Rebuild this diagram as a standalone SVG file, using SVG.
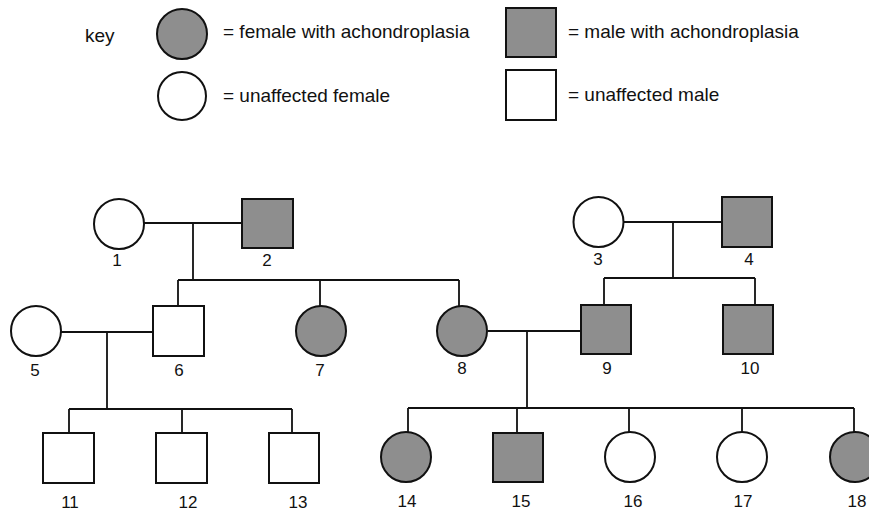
<svg xmlns="http://www.w3.org/2000/svg" width="869" height="512" viewBox="0 0 869 512">
<style>
.aff{fill:#8e8e8e;stroke:#111;stroke-width:2}
.un{fill:#fff;stroke:#111;stroke-width:2}
.ln{fill:none;stroke:#111;stroke-width:1.8}
.kt{font-family:"Liberation Sans",Arial,sans-serif;font-size:19px;fill:#111}
.lb{font-family:"Liberation Sans",Arial,sans-serif;font-size:17px;fill:#111;text-anchor:middle}
</style>
<rect width="869" height="512" fill="#fff"/>
<g id="key">
<text class="kt" x="85" y="42">key</text>
<circle class="aff" cx="182" cy="34" r="25"/>
<text class="kt" x="223" y="38">= female with achondroplasia</text>
<circle class="un" cx="182" cy="96" r="24"/>
<text class="kt" x="223" y="102">= unaffected female</text>
<rect class="aff" x="506" y="8" width="50" height="49"/>
<text class="kt" x="568" y="38">= male with achondroplasia</text>
<rect class="un" x="506" y="70" width="50" height="50"/>
<text class="kt" x="568" y="101">= unaffected male</text>
</g>
<g id="connectors">
<path class="ln" d="M144 223H242M193 223V280M178 280H459M178 280V306M320 280V306M459 280V306"/>
<path class="ln" d="M623 222H722M673 222V278M604 278H755M604 278V305M755 278V305"/>
<path class="ln" d="M61 332H153M107 332V409M69 409H292M69 409V433M182 409V433M292 409V433"/>
<path class="ln" d="M488 331H581M527 331V408M408 408H854M408 408V433M517 408V433M629 408V433M742 408V433M854 408V433"/>
</g>
<g id="n1"><circle class="un" cx="119" cy="224" r="25"/><text class="lb" x="117" y="266">1</text></g>
<g id="n2"><rect class="aff" x="242" y="199" width="51" height="49"/><text class="lb" x="267" y="266">2</text></g>
<g id="n3"><circle class="un" cx="598.5" cy="222" r="25"/><text class="lb" x="598" y="265">3</text></g>
<g id="n4"><rect class="aff" x="722" y="197" width="50" height="50"/><text class="lb" x="749" y="265">4</text></g>
<g id="n5"><circle class="un" cx="36" cy="331" r="25"/><text class="lb" x="35" y="376">5</text></g>
<g id="n6"><rect class="un" x="153" y="306" width="51" height="50"/><text class="lb" x="179" y="376">6</text></g>
<g id="n7"><circle class="aff" cx="321" cy="331" r="25"/><text class="lb" x="320" y="376">7</text></g>
<g id="n8"><circle class="aff" cx="462" cy="331" r="25"/><text class="lb" x="462" y="374">8</text></g>
<g id="n9"><rect class="aff" x="581" y="305" width="50" height="49"/><text class="lb" x="607" y="374">9</text></g>
<g id="n10"><rect class="aff" x="723" y="305" width="50" height="49"/><text class="lb" x="750" y="374">10</text></g>
<g id="n11"><rect class="un" x="43" y="433" width="51" height="50"/><text class="lb" x="70" y="508">11</text></g>
<g id="n12"><rect class="un" x="156" y="433" width="51" height="50"/><text class="lb" x="188" y="508">12</text></g>
<g id="n13"><rect class="un" x="269" y="433" width="50" height="50"/><text class="lb" x="298" y="508">13</text></g>
<g id="n14"><circle class="aff" cx="406" cy="457" r="25"/><text class="lb" x="407" y="507">14</text></g>
<g id="n15"><rect class="aff" x="493" y="433" width="50" height="49"/><text class="lb" x="521" y="507">15</text></g>
<g id="n16"><circle class="un" cx="630" cy="457" r="25"/><text class="lb" x="633" y="507">16</text></g>
<g id="n17"><circle class="un" cx="742" cy="457" r="25"/><text class="lb" x="743" y="507">17</text></g>
<g id="n18"><circle class="aff" cx="855" cy="457" r="25"/><text class="lb" x="857" y="507">18</text></g>
</svg>
